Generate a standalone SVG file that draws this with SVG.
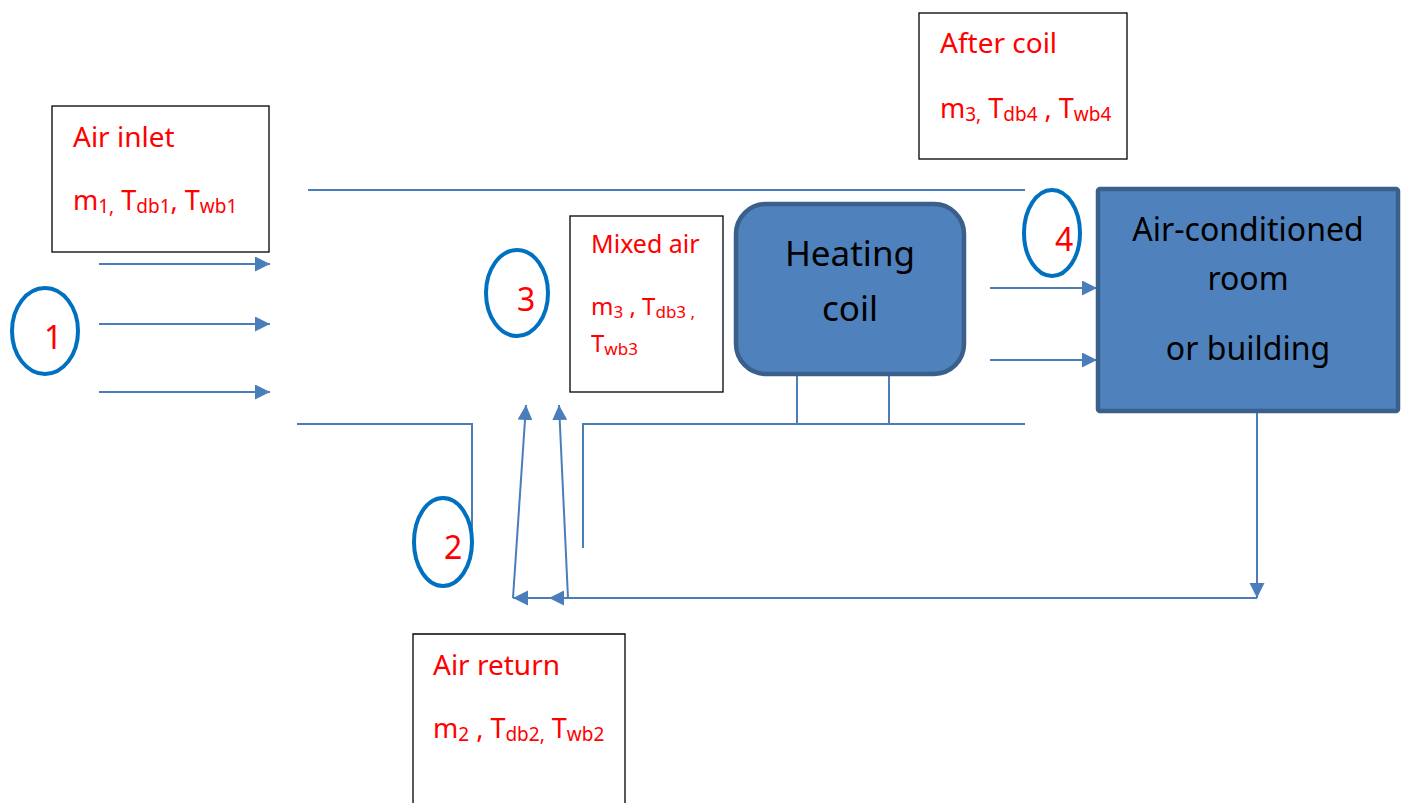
<svg xmlns="http://www.w3.org/2000/svg" width="1402" height="803" viewBox="0 0 1402 803">
<style>
.ln{stroke:#4A7EBB;stroke-width:2;fill:none}
.arr{stroke:#4A7EBB;stroke-width:2;fill:none;marker-end:url(#ah)}
.box{fill:#fff;stroke:#000;stroke-width:1.3}
.blue{fill:#4F81BD;stroke:#3A5F8B;stroke-width:4.5}
.circ{fill:none;stroke:#0070C0;stroke-width:4}
.num{font-family:"Noto Sans","Liberation Sans",sans-serif;font-size:32px;fill:#FF0000}
.title{font-family:"Noto Sans","Liberation Sans",sans-serif;font-size:28px;fill:#FF0000}
.var{font-family:"Noto Sans","Liberation Sans",sans-serif;font-size:27px;fill:#FF0000}
.sub{font-size:19px}
.big{font-family:"Noto Sans","Liberation Sans",sans-serif;font-size:35px;fill:#000;text-anchor:middle}
.room{font-family:"Noto Sans","Liberation Sans",sans-serif;font-size:32px;fill:#000;text-anchor:middle}
</style>
<defs>
<marker id="ah" markerUnits="userSpaceOnUse" markerWidth="16" markerHeight="16" viewBox="0 0 16 16" refX="15" refY="7.5" orient="auto">
<path d="M0,0 L15,7.5 L0,15 z" fill="#4A7EBB"/>
</marker>
</defs>

<g id="connectors">
<line class="arr" x1="99" y1="264" x2="270" y2="264"/>
<line class="arr" x1="99" y1="324" x2="270" y2="324"/>
<line class="arr" x1="99" y1="392" x2="270" y2="392"/>
<line class="ln" x1="308" y1="190" x2="1025" y2="190"/>
<polyline class="ln" points="297,424 472,424 472,532"/>
<polyline class="ln" points="583,548 583,424 1025,424"/>
<line class="ln" x1="797" y1="375" x2="797" y2="424"/>
<line class="ln" x1="889" y1="375" x2="889" y2="424"/>
<line class="arr" x1="990" y1="288" x2="1097" y2="288"/>
<line class="arr" x1="990" y1="360" x2="1097" y2="360"/>
<line class="arr" x1="1257" y1="412" x2="1257" y2="598"/>
<line class="arr" x1="1257" y1="598" x2="549" y2="598"/>
<line class="arr" x1="549" y1="598" x2="513" y2="598"/>
<line class="arr" x1="568" y1="598" x2="559" y2="405"/>
<line class="arr" x1="513" y1="598" x2="526" y2="405"/>
</g>

<g id="air-inlet">
<rect class="box" x="52" y="106" width="217" height="146"/>
<text class="title" x="73" y="147">Air inlet</text>
<text class="var" x="73" y="210">m<tspan class="sub" dy="3">1,</tspan><tspan dy="-3"> T</tspan><tspan class="sub" dy="3">db1</tspan><tspan dy="-3">, T</tspan><tspan class="sub" dy="3">wb1</tspan></text>
</g>

<g id="state-1">
<ellipse class="circ" cx="45" cy="331" rx="33" ry="43"/>
<text class="num" x="44" y="349">1</text>
</g>

<g id="state-2">
<ellipse class="circ" cx="443" cy="542" rx="29" ry="44"/>
<text class="num" x="444" y="559">2</text>
</g>

<g id="state-3">
<ellipse class="circ" cx="517" cy="293" rx="31" ry="43"/>
<text class="num" x="517" y="311">3</text>
</g>

<g id="state-4">
<ellipse class="circ" cx="1052" cy="233" rx="28" ry="43"/>
<text class="num" x="1055" y="251">4</text>
</g>

<g id="mixed-air">
<rect class="box" x="570" y="216" width="153" height="176"/>
<text class="title" x="591" y="253" style="font-size:25px">Mixed air</text>
<text class="var" x="591" y="315" style="font-size:24px">m<tspan class="sub" dy="3" style="font-size:17px">3</tspan><tspan dy="-3"> , T</tspan><tspan class="sub" dy="3" style="font-size:17px">db3 ,</tspan></text>
<text class="var" x="591" y="352" style="font-size:24px">T<tspan class="sub" dy="3" style="font-size:17px">wb3</tspan></text>
</g>

<g id="heating-coil">
<rect class="blue" x="736" y="204" width="228" height="170" rx="30" ry="30"/>
<text class="big" x="850" y="266">Heating</text>
<text class="big" x="850" y="321">coil</text>
</g>

<g id="after-coil">
<rect class="box" x="919" y="13" width="208" height="146"/>
<text class="title" x="940" y="53">After coil</text>
<text class="var" x="940" y="118">m<tspan class="sub" dy="3">3,</tspan><tspan dy="-3"> T</tspan><tspan class="sub" dy="3">db4</tspan><tspan dy="-3"> , T</tspan><tspan class="sub" dy="3">wb4</tspan></text>
</g>

<g id="room">
<rect class="blue" x="1098" y="189" width="300" height="222" rx="2" ry="2"/>
<text class="room" x="1248" y="241">Air-conditioned</text>
<text class="room" x="1248" y="290">room</text>
<text class="room" x="1248" y="360">or building</text>
</g>

<g id="air-return">
<path class="box" d="M413,805 L413,634 L625,634 L625,805"/>
<text class="title" x="433" y="675">Air return</text>
<text class="var" x="433" y="738">m<tspan class="sub" dy="3">2</tspan><tspan dy="-3"> , T</tspan><tspan class="sub" dy="3">db2,</tspan><tspan dy="-3"> T</tspan><tspan class="sub" dy="3">wb2</tspan></text>
</g>
</svg>
